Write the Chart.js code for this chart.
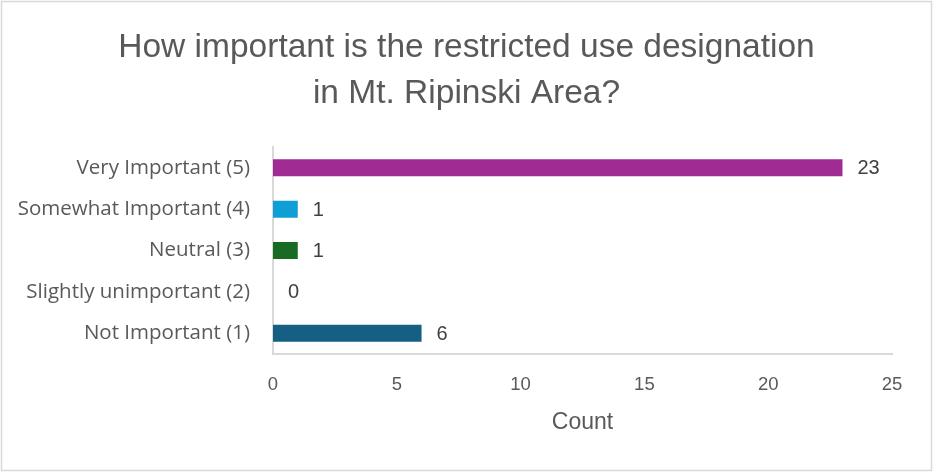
<!DOCTYPE html>
<html>
<head>
<meta charset="utf-8">
<script src="https://cdn.jsdelivr.net/npm/chart.js@4.4.1/dist/chart.umd.min.js"></script>
<style>
  html, body { margin: 0; padding: 0; background: #fff; }
  #wrap { position: relative; width: 933px; height: 472px; }
</style>
</head>
<body>
<div id="wrap"><canvas id="surveyChart" width="933" height="472"></canvas></div>
<script>
const categories = ['Very Important (5)', 'Somewhat Important (4)', 'Neutral (3)', 'Slightly unimportant (2)', 'Not Important (1)'];
const counts = [23, 1, 1, 0, 6];
const barColors = ['#a02b93', '#0f9ed5', '#196b24', '#4ea72e', '#156082'];
const titleLines = ['How important is the restricted use designation', 'in Mt. Ripinski Area?'];
const axisTitle = 'Count';

const SANS = "'Liberation Sans', Arial, sans-serif";
const GREY = '#595959';

// borde exterior
const frame = {
  id: 'frame',
  afterDraw(chart) {
    const c = chart.ctx;
    c.save();
    c.strokeStyle = '#d9d9d9';
    c.lineWidth = 1.5;
    c.strokeRect(1.5, 1.5, chart.width - 3, chart.height - 3);
    c.restore();
  }
};

// etiquetas de valor al final de cada barra
const valueLabels = {
  id: 'valueLabels',
  afterDatasetsDraw(chart) {
    const c = chart.ctx;
    c.save();
    c.font = "20px 'Liberation Sans', Arial, sans-serif";
    c.fillStyle = '#404040';
    c.textAlign = 'left';
    c.textBaseline = 'middle';
    chart.getDatasetMeta(0).data.forEach((bar, i) => {
      c.fillText(String(counts[i]), bar.x + 15, bar.y + 1);
    });
    c.restore();
  }
};

new Chart(document.getElementById('surveyChart'), {
  type: 'bar',
  data: {
    labels: categories,
    datasets: [{
      data: counts,
      backgroundColor: barColors,
      barPercentage: 0.82,
      categoryPercentage: 0.5
    }]
  },
  options: {
    indexAxis: 'y',
    responsive: false,
    animation: false,
    layout: { padding: 0 },
    plugins: {
      legend: { display: false },
      tooltip: { enabled: false },
      title: {
        display: true,
        text: titleLines,
        color: GREY,
        font: { family: SANS, size: 33.5, weight: 'normal', lineHeight: 1.39 },
        padding: { top: 24, bottom: 30 }
      }
    },
    scales: {
      x: {
        min: 0,
        max: 25,
        ticks: { stepSize: 5, color: GREY, padding: 20, font: { family: SANS, size: 18.5 } },
        grid: { display: false, drawTicks: false },
        border: { display: true, color: '#d9d9d9', width: 2 },
        title: {
          display: true,
          text: axisTitle,
          color: GREY,
          font: { family: SANS, size: 23 },
          padding: { top: 0, bottom: 36 }
        },
        afterFit(s) { s.height = 118; }
      },
      y: {
        ticks: { color: GREY, padding: 23, font: { family: "'Open Sans', sans-serif", size: 20.5 } },
        grid: { display: false, drawTicks: false },
        border: { display: true, color: '#d9d9d9', width: 2 },
        afterFit(s) { s.width = 273; }
      },
      pad: {
        type: 'linear',
        position: 'right',
        axis: 'y',
        display: true,
        ticks: { display: false },
        grid: { display: false, drawTicks: false },
        border: { display: false },
        afterFit(s) { s.width = 41; }
      }
    }
  },
  plugins: [frame, valueLabels]
});
</script>
</body>
</html>
